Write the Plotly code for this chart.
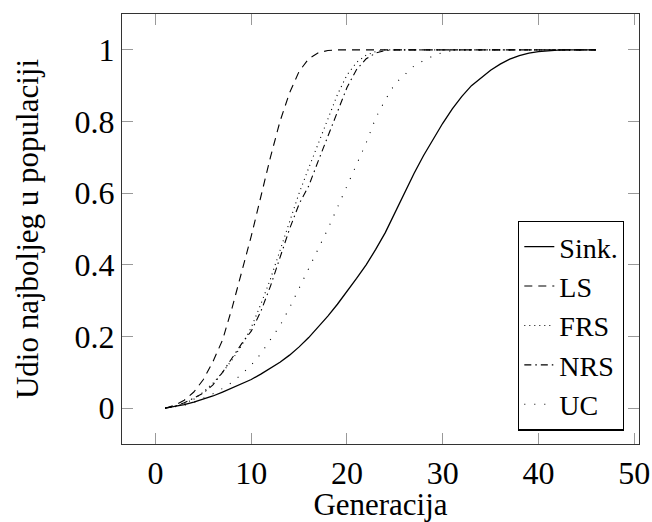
import plotly.graph_objects as go

generations = list(range(1, 47))

sink = [0.000, 0.004, 0.010, 0.017, 0.025, 0.034, 0.045, 0.057, 0.069, 0.080,
        0.095, 0.111, 0.128, 0.148, 0.171, 0.197, 0.226, 0.257, 0.290, 0.325,
        0.362, 0.400, 0.443, 0.490, 0.545, 0.600, 0.655, 0.705, 0.752, 0.795,
        0.835, 0.870, 0.900, 0.922, 0.943, 0.960, 0.974, 0.984, 0.991, 0.995,
        0.998, 0.999, 1.000, 1.000, 1.000, 1.000]

ls = [0.000, 0.008, 0.022, 0.045, 0.080, 0.130, 0.190, 0.280, 0.380, 0.480,
      0.590, 0.700, 0.800, 0.880, 0.940, 0.975, 0.992, 0.998, 1.000, 1.000,
      1.000, 1.000, 1.000, 1.000, 1.000, 1.000, 1.000, 1.000, 1.000, 1.000,
      1.000, 1.000, 1.000, 1.000, 1.000, 1.000, 1.000, 1.000, 1.000, 1.000,
      1.000, 1.000, 1.000, 1.000, 1.000, 1.000]

frs = [0.000, 0.005, 0.013, 0.025, 0.045, 0.070, 0.100, 0.135, 0.175, 0.225,
       0.290, 0.360, 0.440, 0.520, 0.600, 0.670, 0.740, 0.810, 0.875, 0.930,
       0.965, 0.985, 0.995, 1.000, 1.000, 1.000, 1.000, 1.000, 1.000, 1.000,
       1.000, 1.000, 1.000, 1.000, 1.000, 1.000, 1.000, 1.000, 1.000, 1.000,
       1.000, 1.000, 1.000, 1.000, 1.000, 1.000]

nrs = [0.000, 0.005, 0.015, 0.028, 0.042, 0.065, 0.100, 0.140, 0.180, 0.215,
       0.270, 0.340, 0.420, 0.500, 0.570, 0.620, 0.690, 0.760, 0.830, 0.895,
       0.945, 0.975, 0.991, 0.998, 1.000, 1.000, 1.000, 1.000, 1.000, 1.000,
       1.000, 1.000, 1.000, 1.000, 1.000, 1.000, 1.000, 1.000, 1.000, 1.000,
       1.000, 1.000, 1.000, 1.000, 1.000, 1.000]

uc = [0.000, 0.003, 0.008, 0.016, 0.027, 0.040, 0.055, 0.072, 0.095, 0.120,
      0.152, 0.190, 0.230, 0.280, 0.335, 0.390, 0.445, 0.500, 0.560, 0.620,
      0.685, 0.740, 0.810, 0.860, 0.905, 0.930, 0.955, 0.970, 0.983, 0.993,
      0.998, 1.000, 1.000, 1.000, 1.000, 1.000, 1.000, 1.000, 1.000, 1.000,
      1.000, 1.000, 1.000, 1.000, 1.000, 1.000]

series_names = ["Sink.", "LS", "FRS", "NRS", "UC"]
x_tick_vals = [0, 10, 20, 30, 40, 50]
y_tick_vals = [0, 0.2, 0.4, 0.6, 0.8, 1]
y_tick_text = ["0", "0.2", "0.4", "0.6", "0.8", "1"]

styles = [
    dict(dash="solid", width=1.3),
    dict(dash="8px,6px", width=1.1),
    dict(dash="1px,4px", width=1.1),
    dict(dash="7px,4px,1.5px,4px", width=1.1),
    dict(dash="1px,9px", width=1.1),
]

FONT = "Liberation Serif"
FS = 32

fig = go.Figure()
for name, ys, st in zip(series_names, [sink, ls, frs, nrs, uc], styles):
    fig.add_trace(go.Scatter(
        x=generations, y=ys, mode="lines", name=name,
        line=dict(color="black", width=st["width"], dash=st["dash"]),
    ))

axis_common = dict(
    showline=True, linecolor="#333", linewidth=1.3, mirror="ticks",
    ticks="inside", ticklen=11, tickcolor="#999", tickwidth=1,
    showgrid=False, zeroline=False, automargin=False,
    tickfont=dict(family=FONT, size=FS, color="black"),
)

fig.update_xaxes(
    range=[-3.5, 50.5], tickvals=x_tick_vals,
    title=dict(text="Generacija", font=dict(family=FONT, size=31, color="black"), standoff=4),
    **axis_common,
)
fig.update_yaxes(
    range=[-0.1, 1.1], tickvals=y_tick_vals, ticktext=y_tick_text,
    title=dict(text="Udio najboljeg u populaciji", font=dict(family=FONT, size=31, color="black"), standoff=26),
    **axis_common,
)

fig.update_layout(
    width=652, height=522,
    margin=dict(l=122, r=13, t=14, b=78, autoexpand=False),
    paper_bgcolor="white", plot_bgcolor="white",
    font=dict(family=FONT, size=FS, color="black"),
    showlegend=True,
    legend=dict(
        x=0.971, y=0.031, xanchor="right", yanchor="bottom",
        bgcolor="white", bordercolor="black", borderwidth=1.3,
        font=dict(family=FONT, size=28, color="black"),
        tracegroupgap=0, itemwidth=30, entrywidth=100,
    ),
)

fig.write_html(
    "out.html",
    config={"displayModeBar": False},
    post_script="document.body.style.margin='0px';document.body.style.overflow='hidden';",
)
